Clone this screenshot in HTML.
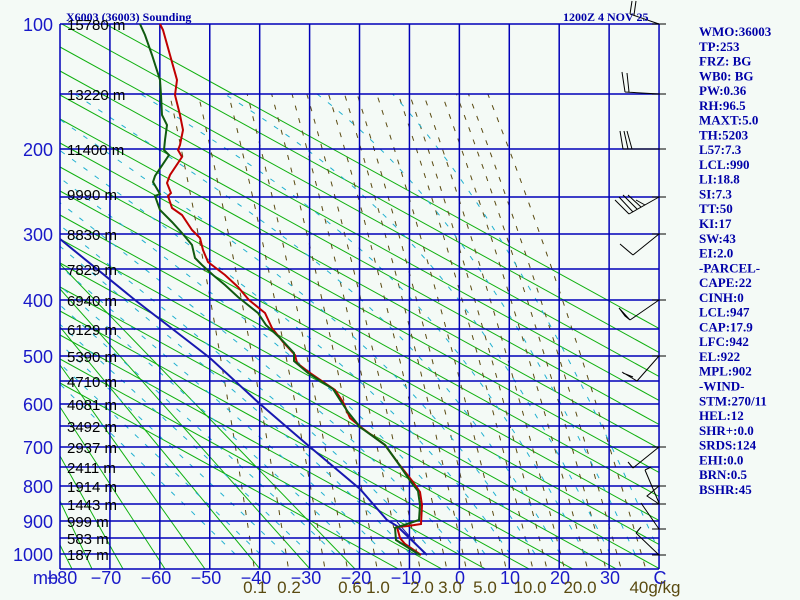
<!DOCTYPE html>
<html><head><meta charset="utf-8"><style>
html,body{margin:0;padding:0;background:#f4faf6;overflow:hidden;width:800px;height:600px;}
svg{display:block;}
</style></head><body>
<svg id="s" width="800" height="600" xmlns="http://www.w3.org/2000/svg" style="background:#f4faf6">
<defs><clipPath id="c"><rect x="60" y="24" width="599" height="545"/></clipPath></defs>
<g id="bg" clip-path="url(#c)"></g>
<g id="grid"></g>
<g id="prof" fill="none" stroke-width="2">
<polyline stroke="#1818b0" points="60,239 135,300 210,358 260,404 310,447 360,489 387,520 397,526 427,555"/>
<polyline stroke="#1818b0" stroke-width="1" points="397,522 424,553"/>
<polyline stroke="#c00000" points="160,24 163,30 170,55 177,80 175,95 180,115 183,130 180,145 178,150 182,157 170,175 167,183 171,193 168,196 172,208 182,215 192,230 200,238 203,250 208,262 225,275 238,287 249,300 265,313 272,328 283,342 295,355 297,363 310,373 335,390 343,402 350,418 362,428 385,445 398,463 413,482 420,492 422,505 421,524 408,526 397,527 400,538 405,544 421,555"/>
<polyline stroke="#105a10" points="140,24 145,35 152,55 160,80 161,95 162,115 167,125 165,140 164,150 169,155 155,176 153,182 160,194 155,196 160,210 172,222 182,233 192,245 195,258 202,265 213,275 225,285 238,297 258,313 266,325 280,338 294,353 294,361 308,373 333,389 340,400 348,412 360,427 385,445 398,463 411,482 418,491 420,505 419,520 395,528 396,540 415,552 420,555"/>
</g>
<g stroke="#000" stroke-width="1" fill="none">
<path d="M659,24 L630,14 M630,14 L632,1 M634,15 L636,1"/>
<path d="M659,94 L625,92 M625,92 L622,72 M629,92 L627,73"/>
<path d="M659,149 L623,149 M623,149 L620,131 M628,149 L624,131 M632,149 L627,131"/>
<path d="M659,197 L629,214 M629,214 L615,200 M633,212 L619,197 M637,209 L623,195 M641,207 L628,195 M645,205 L636,200"/>
<path d="M659,234 L633,255 M659,300 L630,320 M659,356 L637,381 M637,381 L622,372 M633,377 L623,373"/>
<path d="M659,447 L633,468 M633,468 L628,462 M659,486 L647,496 L659,504 M645,470 L651,467 M645,470 L659,503 M659,529 L641,503 M659,555 L636,533 M636,533 L641,527"/>
<path d="M652,24 H666 M652,94 H666 M652,149 H666 M652,197 H666 M652,234 H666 M652,300 H666 M652,356 H666 M652,447 H666 M652,486 H666 M652,504 H666 M652,529 H666 M652,555 H666"/>
</g>
<path d="M633,255 L620,244 L627,250 Z M630,320 L619,308 L625,316 Z" fill="#000" stroke="#000"/>
<g font-family="'Liberation Serif',serif" font-weight="bold" font-size="13" fill="#0000a8">
<text x="66" y="21" font-size="12">X6003 (36003) Sounding</text>
<text x="563" y="21" font-size="12">1200Z  4 NOV 25</text>
<g id="rt"></g>
</g>
<g id="lab"></g>
</svg>
<script>
var NS="http://www.w3.org/2000/svg";
function el(p,t,a,txt){var e=document.createElementNS(NS,t);for(var k in a)e.setAttribute(k,a[k]);if(txt!=null)e.textContent=txt;p.appendChild(e);return e;}
var K=0.286, S0=Math.pow(0.1,K);
function Y(p){var s=Math.pow(p/1000,K);return 554-530*(1-s)/(1-S0);}
function X(T){return 460+5*T;}
var bg=document.getElementById('bg');
function gl(x1,y1,x2,y2){el(bg,'line',{x1:x1,y1:y1,x2:x2,y2:y2,stroke:'#10b010','stroke-width':1});}
for(var k=0;k<=16;k++){var y=329+24*k;gl(660,y,60,y-330);}
[[264,355],[289,310],[327,260],[365,205],[407,165],[456,123],[501,92],[545,72]].forEach(function(a){gl(60,a[0],a[1],569);});
function es(T){return 6.112*Math.exp(17.67*T/(T+243.5));}
[0.1,0.2,0.4,0.6,1,1.5,2,3,4,5,7,10,12,15,20,25,30,40].forEach(function(w){var pts=[];for(var p=1040;p>=150;p-=10){var e=w*p/(622+w);var l=Math.log(e/6.112);var T=243.5*l/(17.67-l);pts.push(X(T).toFixed(1)+","+Y(p).toFixed(1));}
el(bg,'polyline',{points:pts.join(' '),fill:'none',stroke:'#5a4a10','stroke-width':1,'stroke-dasharray':'5,8'});});
for(var T0=-45;T0<=40;T0+=5){var pts=[];var Tc=T0;
 for(var pp=1000;pp>=150;pp-=5){pts.push(X(Tc).toFixed(1)+","+Y(pp).toFixed(1));var Tk=Tc+273.15;var rs=0.622*es(Tc)/(pp-es(Tc));var dT=(287*Tk+2.5e6*rs)/(pp*(1005+2.5e6*2.5e6*rs*0.622/(287*Tk*Tk)));Tc-=dT*5;}
 el(bg,'polyline',{points:pts.join(' '),fill:'none',stroke:'#20b0d0','stroke-width':1,'stroke-dasharray':'5,9'});}
var g=document.getElementById('grid');
for(var i=0;i<=12;i++){var x=60+i*49.92;el(g,'line',{x1:x,y1:24,x2:x,y2:569,stroke:'#0000b8','stroke-width':1.5});}
var hy=[24,94,149,197,234,269,300,329,356,381,404,426,447,467,486,504,521,538,554,569];
hy.forEach(function(y){el(g,'line',{x1:60,y1:y,x2:659,y2:y,stroke:'#0000b8','stroke-width':1.5});});
var lab=document.getElementById('lab');
var pl=[[100,24],[200,149],[300,234],[400,300],[500,356],[600,404],[700,447],[800,486],[900,521],[1000,554]];
pl.forEach(function(a){el(lab,'text',{x:53,y:a[1]+7,'text-anchor':'end','font-family':"'Liberation Sans',sans-serif",'font-size':18,fill:'#1818c8'},a[0]);});
var hl=[["15780 m",24],["13220 m",94],["11400 m",149],["9990 m",194],["8830 m",234],["7829 m",269],["6940 m",300],["6129 m",329],["5390 m",356],["4710 m",381],["4081 m",404],["3492 m",426],["2937 m",447],["2411 m",467],["1914 m",486],["1443 m",504],["999 m",521],["583 m",538],["187 m",554]];
hl.forEach(function(a){el(lab,'text',{x:67,y:a[1]+6,'font-family':"'Liberation Sans',sans-serif",'font-size':15,fill:'#000'},a[0]);});
el(lab,'text',{x:33,y:584,'font-family':"'Liberation Sans',sans-serif",'font-size':18,fill:'#1818c8'},"mb");
var tl=[-80,-70,-60,-50,-40,-30,-20,-10,0,10,20,30];
tl.forEach(function(t){var s=t<0?"\u2212"+(-t):""+t;el(lab,'text',{x:X(t)+(t<0?-4:0)+(t==-80?6:0),y:584,'text-anchor':'middle','font-family':"'Liberation Sans',sans-serif",'font-size':18,fill:'#1818c8'},s);});
el(lab,'text',{x:660,y:584,'text-anchor':'middle','font-family':"'Liberation Sans',sans-serif",'font-size':18,fill:'#1818c8'},"C");
var ml=[["0.1",255],["0.2",289],["0.6",350],["1.0",378],["2.0",422],["3.0",450],["5.0",485],["10.0",530],["20.0",580],["40g/kg",655]];
ml.forEach(function(a){el(lab,'text',{x:a[1],y:593,'text-anchor':'middle','font-family':"'Liberation Sans',sans-serif",'font-size':17,fill:'#5a4a10'},a[0]);});
var rt=document.getElementById('rt');
var L=["WMO:36003","TP:253","FRZ: BG","WB0: BG","PW:0.36","RH:96.5","MAXT:5.0","TH:5203","L57:7.3","LCL:990","LI:18.8","SI:7.3","TT:50","KI:17","SW:43","EI:2.0","-PARCEL-","CAPE:22","CINH:0","LCL:947","CAP:17.9","LFC:942","EL:922","MPL:902","-WIND-","STM:270/11","HEL:12","SHR+:0.0","SRDS:124","EHI:0.0","BRN:0.5","BSHR:45"];
L.forEach(function(t,i){el(rt,'text',{x:699,y:36+i*14.77},t);});
</script>
</body></html>
